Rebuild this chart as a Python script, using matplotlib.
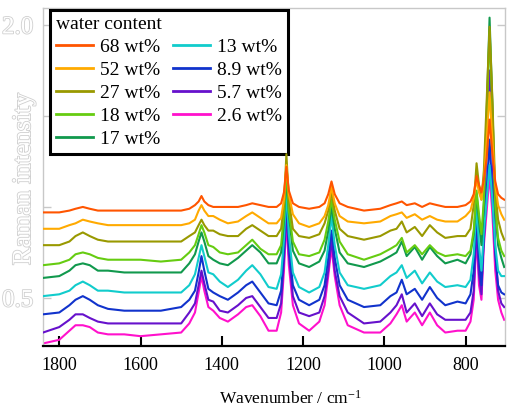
import matplotlib
matplotlib.use('Agg')
import matplotlib.pyplot as plt
import matplotlib.patheffects as pe

plt.rcParams['font.family'] = 'serif'
plt.rcParams['font.serif'] = ['Liberation Serif', 'DejaVu Serif']
plt.rcParams['mathtext.default'] = 'regular'

# wavenumber grid (cm-1)
wavenumber = [1840, 1800, 1775, 1760, 1742, 1725, 1705, 1680, 1640, 1600,
              1550, 1500, 1480, 1466, 1457, 1450, 1443, 1433, 1421, 1405,
              1385, 1360, 1340, 1325, 1305, 1285, 1265, 1254, 1247, 1241,
              1235, 1225, 1210, 1185, 1160, 1147, 1138, 1130, 1122, 1110,
              1090, 1050, 1010, 985, 970, 957, 945, 925, 907, 888,
              870, 850, 820, 800, 788, 780, 773, 767, 761, 755,
              748, 741, 734, 727, 720, 712, 705]

w68 = [0.97, 0.97, 0.98, 0.99, 1.00, 0.99, 0.98, 0.98, 0.98, 0.98,
       0.98, 0.98, 0.99, 1.01, 1.03, 1.06, 1.03, 1.01, 1.00, 1.00,
       1.00, 1.00, 1.01, 1.02, 1.01, 1.00, 1.00, 1.02, 1.08, 1.22,
       1.09, 1.02, 1.00, 0.99, 1.00, 1.02, 1.07, 1.14, 1.07, 1.02,
       1.00, 0.98, 0.99, 1.01, 1.02, 1.03, 1.01, 1.02, 1.00, 1.02,
       1.01, 1.00, 1.00, 1.01, 1.03, 1.07, 1.17, 1.12, 1.08, 1.15,
       1.27, 1.48, 1.29, 1.14, 1.07, 1.05, 1.04]
w52 = [0.88, 0.88, 0.90, 0.91, 0.93, 0.92, 0.91, 0.90, 0.90, 0.90,
       0.90, 0.90, 0.91, 0.93, 0.98, 1.01, 0.98, 0.95, 0.95, 0.93,
       0.91, 0.92, 0.95, 0.97, 0.94, 0.91, 0.91, 0.94, 1.04, 1.23,
       1.07, 0.96, 0.91, 0.89, 0.91, 0.95, 1.01, 1.11, 1.02, 0.95,
       0.92, 0.91, 0.92, 0.95, 0.96, 0.97, 0.94, 0.96, 0.93, 0.95,
       0.93, 0.92, 0.92, 0.95, 0.98, 1.05, 1.15, 1.08, 1.04, 1.15,
       1.37, 1.63, 1.37, 1.12, 1.01, 0.96, 0.93]
w27 = [0.79, 0.79, 0.81, 0.84, 0.86, 0.84, 0.82, 0.81, 0.81, 0.81,
       0.81, 0.81, 0.84, 0.86, 0.90, 0.93, 0.90, 0.87, 0.87, 0.85,
       0.84, 0.84, 0.88, 0.90, 0.87, 0.84, 0.84, 0.88, 1.01, 1.29,
       1.04, 0.88, 0.84, 0.83, 0.85, 0.91, 0.98, 1.08, 0.98, 0.88,
       0.84, 0.82, 0.84, 0.87, 0.88, 0.92, 0.86, 0.89, 0.84, 0.90,
       0.86, 0.83, 0.84, 0.84, 0.88, 1.01, 1.24, 1.12, 1.04, 1.20,
       1.59, 1.99, 1.59, 1.09, 0.93, 0.86, 0.82]
w18 = [0.68, 0.69, 0.71, 0.74, 0.75, 0.74, 0.72, 0.71, 0.71, 0.71,
       0.70, 0.71, 0.75, 0.79, 0.85, 0.90, 0.86, 0.79, 0.78, 0.75,
       0.74, 0.75, 0.79, 0.82, 0.77, 0.74, 0.74, 0.79, 0.96, 1.23,
       0.98, 0.81, 0.74, 0.73, 0.75, 0.82, 0.92, 1.04, 0.93, 0.81,
       0.74, 0.71, 0.74, 0.77, 0.79, 0.83, 0.75, 0.79, 0.74, 0.79,
       0.75, 0.73, 0.74, 0.73, 0.76, 0.87, 1.09, 0.96, 0.85, 1.04,
       1.48, 1.97, 1.53, 1.01, 0.83, 0.76, 0.73]
w17 = [0.61, 0.62, 0.65, 0.68, 0.69, 0.68, 0.65, 0.65, 0.64, 0.64,
       0.64, 0.64, 0.69, 0.74, 0.81, 0.86, 0.81, 0.73, 0.71, 0.69,
       0.68, 0.72, 0.76, 0.79, 0.75, 0.69, 0.69, 0.75, 0.92, 1.18,
       0.96, 0.76, 0.69, 0.67, 0.70, 0.76, 0.87, 1.00, 0.88, 0.75,
       0.69, 0.67, 0.70, 0.73, 0.75, 0.81, 0.73, 0.78, 0.71, 0.78,
       0.73, 0.69, 0.71, 0.69, 0.74, 0.85, 1.07, 0.92, 0.79, 1.01,
       1.53, 2.04, 1.56, 0.98, 0.79, 0.72, 0.67]
w13 = [0.51, 0.52, 0.54, 0.57, 0.59, 0.57, 0.54, 0.54, 0.53, 0.53,
       0.53, 0.53, 0.57, 0.63, 0.72, 0.79, 0.73, 0.64, 0.63, 0.59,
       0.56, 0.60, 0.65, 0.68, 0.63, 0.56, 0.55, 0.63, 0.82, 1.09,
       0.85, 0.64, 0.56, 0.53, 0.56, 0.64, 0.79, 0.95, 0.79, 0.64,
       0.57, 0.55, 0.57, 0.62, 0.64, 0.68, 0.61, 0.65, 0.58, 0.64,
       0.59, 0.56, 0.57, 0.56, 0.60, 0.74, 1.01, 0.79, 0.65, 0.87,
       1.04, 1.23, 1.04, 0.79, 0.65, 0.62, 0.62]
w8_9 = [0.41, 0.42, 0.46, 0.49, 0.51, 0.49, 0.46, 0.44, 0.43, 0.43,
        0.43, 0.45, 0.49, 0.54, 0.64, 0.73, 0.65, 0.55, 0.53, 0.51,
        0.49, 0.53, 0.57, 0.59, 0.53, 0.47, 0.46, 0.54, 0.76, 1.07,
        0.79, 0.57, 0.49, 0.46, 0.49, 0.57, 0.72, 0.87, 0.72, 0.57,
        0.49, 0.45, 0.46, 0.51, 0.53, 0.60, 0.52, 0.55, 0.49, 0.56,
        0.50, 0.46, 0.48, 0.47, 0.52, 0.65, 0.96, 0.71, 0.57, 0.82,
        1.09, 1.37, 1.07, 0.74, 0.57, 0.53, 0.52]
w5_7 = [0.31, 0.34, 0.38, 0.41, 0.41, 0.39, 0.37, 0.36, 0.36, 0.36,
        0.36, 0.36, 0.42, 0.47, 0.57, 0.65, 0.58, 0.49, 0.48, 0.43,
        0.42, 0.46, 0.50, 0.51, 0.45, 0.39, 0.39, 0.47, 0.71, 0.98,
        0.74, 0.51, 0.42, 0.40, 0.42, 0.51, 0.65, 0.82, 0.65, 0.51,
        0.42, 0.36, 0.37, 0.42, 0.46, 0.52, 0.42, 0.47, 0.40, 0.47,
        0.41, 0.38, 0.38, 0.38, 0.42, 0.54, 0.90, 0.63, 0.52, 0.87,
        1.37, 1.75, 1.31, 0.76, 0.54, 0.47, 0.45]
w2_6 = [0.25, 0.27, 0.32, 0.35, 0.35, 0.34, 0.31, 0.30, 0.30, 0.29,
        0.30, 0.31, 0.36, 0.42, 0.53, 0.62, 0.54, 0.45, 0.43, 0.39,
        0.37, 0.41, 0.45, 0.46, 0.40, 0.32, 0.32, 0.42, 0.65, 0.93,
        0.68, 0.46, 0.36, 0.32, 0.37, 0.46, 0.62, 0.78, 0.62, 0.46,
        0.35, 0.31, 0.31, 0.36, 0.41, 0.46, 0.37, 0.42, 0.35, 0.42,
        0.35, 0.31, 0.32, 0.32, 0.37, 0.49, 0.85, 0.57, 0.49, 0.79,
        0.98, 1.18, 0.96, 0.65, 0.49, 0.42, 0.38]

labels = ['68 wt%', '52 wt%', '27 wt%', '18 wt%', '17 wt%',
          '13 wt%', '8.9 wt%', '5.7 wt%', '2.6 wt%']
colors = ['#ff5500', '#ffaa00', '#999900', '#66cc11', '#11994d',
          '#11cccc', '#1133cc', '#6611cc', '#ff11cc']
series = [w68, w52, w27, w18, w17, w13, w8_9, w5_7, w2_6]

fig = plt.figure(figsize=(5.08, 4.08), dpi=100)
ax = fig.add_axes([43 / 508, 1 - 346 / 408, 462 / 508, 338 / 408])

for i, (y, lab, c) in enumerate(zip(series, labels, colors)):
    ax.plot(wavenumber, y, color=c, lw=1.5, label=lab, zorder=10 - i)

ax.set_xlim(1840, 703)
ax.set_ylim(0.236, 2.093)
ax.set_xticks([1800, 1600, 1400, 1200, 1000, 800])
ax.set_yticks([0.5, 1.0, 1.5, 2.0])
ax.set_yticklabels(['0.5', '', '', '2.0'])

grey = '#c8c8c8'
for s in ['left', 'right', 'top']:
    ax.spines[s].set_color(grey)
    ax.spines[s].set_linewidth(1.0)
ax.spines['bottom'].set_linewidth(1.6)

ax.tick_params(axis='x', direction='in', length=7, width=1.5, labelsize=13, pad=8)
ax.tick_params(axis='y', direction='in', length=6, width=1, color=grey,
               labelsize=18, pad=7, right=True)

ghost = [pe.withStroke(linewidth=1.2, foreground='#cfcfcf')]
for t in ax.get_yticklabels():
    t.set_color('white')
    t.set_path_effects(ghost)

ax.set_xlabel('Wavenumber / cm$^{-1}$', fontsize=12.5, va='center')
ax.xaxis.set_label_coords(0.535, -0.157)
ylab = ax.set_ylabel('Raman intensity', fontsize=19, color='white', va='center')
ylab.set_path_effects(ghost)
ax.yaxis.set_label_coords(-0.041, 0.494)

leg = ax.legend(ncol=2, loc='upper left', bbox_to_anchor=(0.015, 0.994),
                borderaxespad=0, fontsize=14, title='water content',
                title_fontsize=14, alignment='left', fancybox=False,
                handlelength=1.9, handletextpad=0.36, columnspacing=0.67,
                labelspacing=0.28, borderpad=0.3, framealpha=1)
leg.get_frame().set_edgecolor('black')
leg.get_frame().set_linewidth(2.2)
for h in leg.get_lines():
    h.set_linewidth(2)

fig.savefig('out.png', dpi=100)
